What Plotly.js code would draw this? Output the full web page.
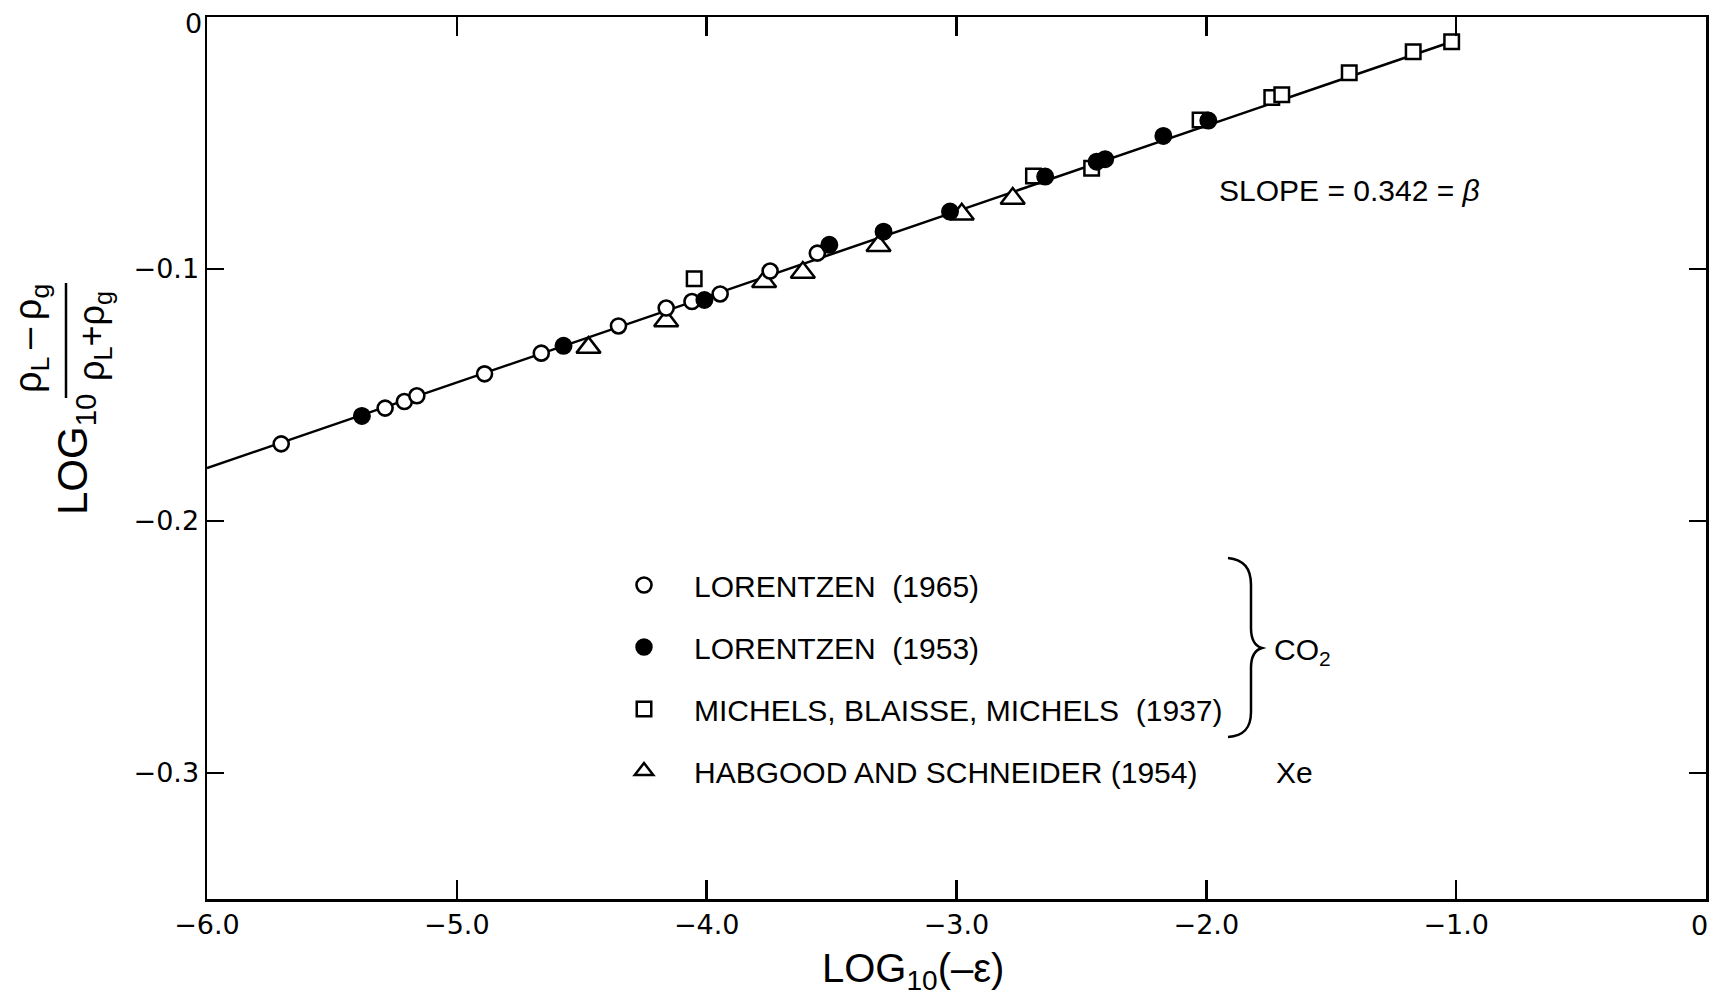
<!DOCTYPE html>
<html>
<head>
<meta charset="utf-8">
<script src="https://cdn.plot.ly/plotly-3.0.1.min.js"></script>
<style>
  html, body { margin: 0; padding: 0; background: #ffffff; }
  #chart { width: 1712px; height: 999px; }
</style>
</head>
<body>
<div id="chart"></div>
<script>
// ---------- data ----------
// LORENTZEN (1965) - open circles, CO2
const lor65X = [-5.703, -5.287, -5.210, -5.160, -4.889, -4.662, -4.353, -4.162, -4.059, -3.946, -3.746, -3.557];
const lor65Y = [-0.1694, -0.1552, -0.1526, -0.1503, -0.1416, -0.1334, -0.1226, -0.1155, -0.1129, -0.1099, -0.1008, -0.0937];

// LORENTZEN (1953) - filled circles, CO2
const lor53X = [-5.380, -4.573, -4.009, -3.509, -3.292, -3.026, -2.645, -2.439, -2.405, -2.172, -1.992];
const lor53Y = [-0.1583, -0.1305, -0.1123, -0.0904, -0.0852, -0.0772, -0.0633, -0.0574, -0.0564, -0.0472, -0.0411];

// MICHELS, BLAISSE, MICHELS (1937) - open squares, CO2
const michX = [-4.050, -2.692, -2.459, -2.025, -1.738, -1.698, -1.428, -1.172, -1.018];
const michY = [-0.1039, -0.0631, -0.0600, -0.0409, -0.0319, -0.0309, -0.0221, -0.0138, -0.0098];

// HABGOOD AND SCHNEIDER (1954) - open triangles, Xe
const habX = [-4.473, -4.162, -3.770, -3.615, -3.312, -2.979, -2.775];
const habY = [-0.1312, -0.1206, -0.1051, -0.1014, -0.0908, -0.0783, -0.0720];

// fitted line (slope 0.342 = beta)
const fitX = [-6.0, -1.018];
const fitY = [-0.179, -0.0098];

// tick labels
const xTickVals = [-6, -5, -4, -3, -2, -1, 0];
const xTickText = ['\u22126.0', '\u22125.0', '\u22124.0', '\u22123.0', '\u22122.0', '\u22121.0', ' '];
const yTickVals = [0, -0.1, -0.2, -0.3];
const yTickText = [' ', '\u22120.1', '\u22120.2', '\u22120.3'];

const seriesNames = [
  'LORENTZEN\u00a0\u00a0(1965)',
  'LORENTZEN\u00a0\u00a0(1953)',
  'MICHELS, BLAISSE, MICHELS\u00a0\u00a0(1937)',
  'HABGOOD AND SCHNEIDER (1954)'
];

// ---------- layout helpers (pixel -> paper) ----------
const ML = 207, MR = 6, MT = 17, MB = 100, W = 1712, H = 999;
const PL = ML, PR = W - MR, PT = MT, PB = H - MB;
function px(x) { return (x - PL) / (PR - PL); }
function py(y) { return (PB - y) / (PB - PT); }

const LAB = 'Liberation Sans, Arial, sans-serif';
const TICKF = 'DejaVu Sans, sans-serif';
const TS = '\u2009';

const traces = [
  { x: fitX, y: fitY, mode: 'lines', line: { color: '#000', width: 2.5 }, showlegend: false, hoverinfo: 'skip' },
  { x: habX, y: habY, mode: 'markers', name: seriesNames[3], legendgroup: 'g4', legendrank: 4,
    marker: { symbol: 'triangle-up', size: 21, color: '#fff', line: { color: '#000', width: 2.5 } } },
  { x: michX, y: michY, mode: 'markers', name: seriesNames[2], legendgroup: 'g3', legendrank: 3,
    marker: { symbol: 'square', size: 14.5, color: '#fff', line: { color: '#000', width: 2.5 } } },
  { x: lor65X, y: lor65Y, mode: 'markers', name: seriesNames[0], legendgroup: 'g1', legendrank: 1,
    marker: { symbol: 'circle', size: 15, color: '#fff', line: { color: '#000', width: 2.6 } } },
  { x: lor53X, y: lor53Y, mode: 'markers', name: seriesNames[1], legendgroup: 'g2', legendrank: 2,
    marker: { symbol: 'circle', size: 16.5, color: '#000', line: { color: '#000', width: 1.5 } } }
];

// curly brace for CO2 (decoration)
function bracePath() {
  const p = (x, y) => px(x).toFixed(5) + ',' + py(y).toFixed(5);
  return 'M' + p(1228, 558) +
    ' C' + p(1244, 560) + ' ' + p(1251, 568) + ' ' + p(1251, 585) +
    ' L' + p(1251, 628) +
    ' C' + p(1251, 640) + ' ' + p(1255, 646) + ' ' + p(1262, 648) +
    ' C' + p(1255, 650) + ' ' + p(1251, 656) + ' ' + p(1251, 668) +
    ' L' + p(1251, 712) +
    ' C' + p(1251, 728) + ' ' + p(1244, 736) + ' ' + p(1228, 737);
}

const layout = {
  width: W, height: H,
  margin: { l: ML, r: MR, t: MT, b: MB, pad: 0 },
  paper_bgcolor: '#fff', plot_bgcolor: '#fff',
  showlegend: true,
  legend: {
    x: px(594), y: py(559), xanchor: 'left', yanchor: 'top',
    bgcolor: 'rgba(0,0,0,0)', borderwidth: 0,
    font: { family: LAB, size: 30, color: '#000' },
    itemwidth: 90, tracegroupgap: 20, traceorder: 'grouped'
  },
  xaxis: {
    range: [-6, 0], tickmode: 'array', tickvals: xTickVals, ticktext: xTickText,
    showgrid: false, zeroline: false, showline: true, linecolor: '#000', linewidth: 2.5,
    mirror: 'ticks', ticks: 'inside', ticklen: 19, tickwidth: 2.5, tickcolor: '#000',
    tickfont: { family: TICKF, size: 27, color: '#000' }, ticklabelstandoff: 0
  },
  yaxis: {
    range: [-0.35, 0], tickmode: 'array', tickvals: yTickVals, ticktext: yTickText,
    showgrid: false, zeroline: false, showline: true, linecolor: '#000', linewidth: 2.5,
    mirror: 'ticks', ticks: 'inside', ticklen: 17, tickwidth: 2.5, tickcolor: '#000',
    tickfont: { family: TICKF, size: 27, color: '#000' }, ticklabelstandoff: 0
  },
  shapes: [
    { type: 'path', xref: 'paper', yref: 'paper', path: bracePath(), line: { color: '#000', width: 2.5 } },
    { type: 'line', xref: 'paper', yref: 'paper', x0: px(66), x1: px(66), y0: py(283), y1: py(398),
      line: { color: '#000', width: 2.5 } }
  ],
  annotations: [
    { xref: 'paper', yref: 'paper', x: px(1349), y: py(190), xanchor: 'center', yanchor: 'middle', showarrow: false,
      text: 'SLOPE = 0.342 = <i>\u03b2</i>', font: { family: LAB, size: 30, color: '#000' } },
    { xref: 'paper', yref: 'paper', x: px(193), y: py(24), xanchor: 'center', yanchor: 'middle', showarrow: false,
      text: '0', font: { family: TICKF, size: 27, color: '#000' } },
    { xref: 'paper', yref: 'paper', x: px(1699), y: py(925), xanchor: 'center', yanchor: 'middle', showarrow: false,
      text: '0', font: { family: TICKF, size: 27, color: '#000' } },
    { xref: 'paper', yref: 'paper', x: px(913), y: py(971), xanchor: 'center', yanchor: 'middle', showarrow: false,
      text: 'LOG<sub>10</sub>(\u2013\u03b5)', font: { family: LAB, size: 40, color: '#000' } },
    { xref: 'paper', yref: 'paper', x: px(75), y: py(455), xanchor: 'center', yanchor: 'middle', showarrow: false,
      textangle: -90, text: 'LOG<sub>10</sub>', font: { family: LAB, size: 42, color: '#000' } },
    { xref: 'paper', yref: 'paper', x: px(31), y: py(339), xanchor: 'center', yanchor: 'middle', showarrow: false,
      textangle: -90, text: '\u03c1<sub>L</sub>' + TS + '\u2013' + TS + '\u03c1<sub>g</sub>', font: { family: LAB, size: 38, color: '#000' } },
    { xref: 'paper', yref: 'paper', x: px(94), y: py(336), xanchor: 'center', yanchor: 'middle', showarrow: false,
      textangle: -90, text: '\u03c1<sub>L</sub>+\u03c1<sub>g</sub>', font: { family: LAB, size: 36, color: '#000' } },
    { xref: 'paper', yref: 'paper', x: px(1272), y: py(651), xanchor: 'left', yanchor: 'middle', showarrow: false,
      text: 'CO<sub>2</sub>', font: { family: LAB, size: 30, color: '#000' } },
    { xref: 'paper', yref: 'paper', x: px(1274), y: py(772), xanchor: 'left', yanchor: 'middle', showarrow: false,
      text: 'Xe', font: { family: LAB, size: 30, color: '#000' } }
  ]
};

Plotly.newPlot('chart', traces, layout, { displayModeBar: false, staticPlot: true });
</script>
</body>
</html>
